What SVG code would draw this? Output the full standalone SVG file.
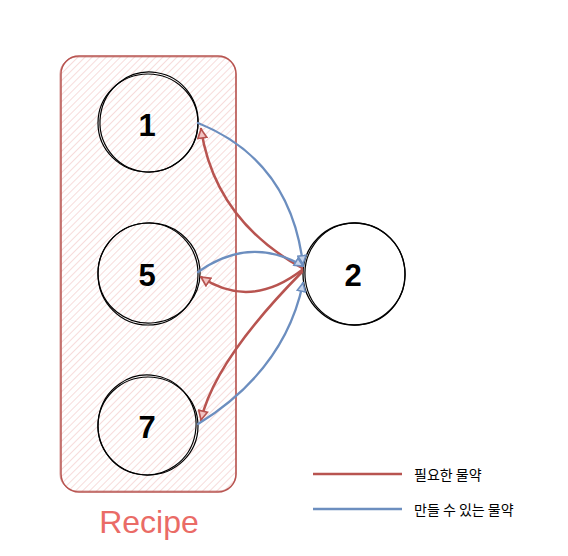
<svg xmlns="http://www.w3.org/2000/svg" width="568" height="556" viewBox="0 0 568 556">
<style>
.node{fill:none;stroke:#000;stroke-width:1.2}
.num{font-family:"Liberation Sans",Arial,sans-serif;font-weight:bold;font-size:31px;text-anchor:middle;fill:#000}
.red{fill:none;stroke:#b85450;stroke-width:2.5;stroke-linecap:round}
.blue{fill:none;stroke:#6c8ebf;stroke-width:2.3;stroke-linecap:round}
.leg{font-family:"Noto Sans CJK KR",sans-serif;font-size:14px;fill:#000}
</style>
<defs>
<pattern id="hach" patternUnits="userSpaceOnUse" width="5" height="5" patternTransform="rotate(45)">
<line x1="0" y1="0" x2="0" y2="5" stroke="#f2c4c2" stroke-width="1.2"/>
</pattern>
<marker id="mr" viewBox="0 0 10 10" refX="9" refY="5" markerWidth="4.5" markerHeight="4.5" orient="auto" markerUnits="strokeWidth">
<path d="M1,1 L9,5 L1,9 Z" fill="#f2c4c2" stroke="#b85450" stroke-width="1.5"/>
</marker>
<marker id="mb" viewBox="0 0 10 10" refX="9" refY="5" markerWidth="4.5" markerHeight="4.5" orient="auto" markerUnits="strokeWidth">
<path d="M1,1 L9,5 L1,9 Z" fill="#c9d6ec" stroke="#6c8ebf" stroke-width="1.5"/>
</marker>
</defs>
<rect width="568" height="556" fill="#fff"/>
<g id="recipe">
<rect x="61" y="56" width="175" height="436" rx="18" fill="url(#hach)" stroke="#b85450" stroke-width="1.5"/>
<rect x="60" y="57" width="176" height="434" rx="17" fill="none" stroke="#b85450" stroke-width="0.8" opacity="0.7"/>
<text x="149" y="533" font-family="&quot;Liberation Sans&quot;,Arial,sans-serif" font-size="32" fill="#ea6b66" text-anchor="middle">Recipe</text>
</g>
<g id="node1">
<ellipse class="node" cx="148" cy="123" rx="50" ry="49"/>
<ellipse class="node" cx="149" cy="122" rx="49" ry="50" transform="rotate(8 149 122)" stroke-width="0.8"/>
<text class="num" x="147" y="136">1</text>
</g>
<g id="node5">
<ellipse class="node" cx="148" cy="274" rx="50" ry="51"/>
<ellipse class="node" cx="149" cy="273" rx="51" ry="50" transform="rotate(-6 149 273)" stroke-width="0.8"/>
<text class="num" x="147" y="286">5</text>
</g>
<g id="node7">
<ellipse class="node" cx="148" cy="426" rx="50" ry="49"/>
<ellipse class="node" cx="147" cy="425" rx="49" ry="50" transform="rotate(10 147 425)" stroke-width="0.8"/>
<text class="num" x="147" y="438">7</text>
</g>
<g id="node2">
<ellipse cx="354" cy="274" rx="51" ry="51" fill="#fff" stroke="#000" stroke-width="1.3"/>
<ellipse class="node" cx="355" cy="274" rx="50" ry="51" transform="rotate(-8 355 274)" stroke-width="0.8"/>
<text class="num" x="353" y="286">2</text>
</g>
<g id="connectors">
<path class="red" d="M302,268 Q215,220 201,129" marker-end="url(#mr)"/>
<path class="red" d="M302,270 Q250,310 201,277" marker-end="url(#mr)"/>
<path class="red" d="M302,272 Q215,360 201,420" marker-end="url(#mr)"/>
<path class="blue" d="M198,123 Q290,160 303,264" marker-end="url(#mb)"/>
<path class="blue" d="M198,272 Q250,235 303,266" marker-end="url(#mb)"/>
<path class="blue" d="M198,424 Q285,370 303,283" marker-end="url(#mb)"/>
</g>
<g id="legend">
<line x1="313" y1="474" x2="402" y2="474" stroke="#b85450" stroke-width="2.5"/>
<line x1="313" y1="509" x2="402" y2="509" stroke="#6c8ebf" stroke-width="2.5"/>
<text class="leg" x="414" y="480">필요한 물약</text>
<text class="leg" x="414" y="515">만들 수 있는 물약</text>
</g>
</svg>
